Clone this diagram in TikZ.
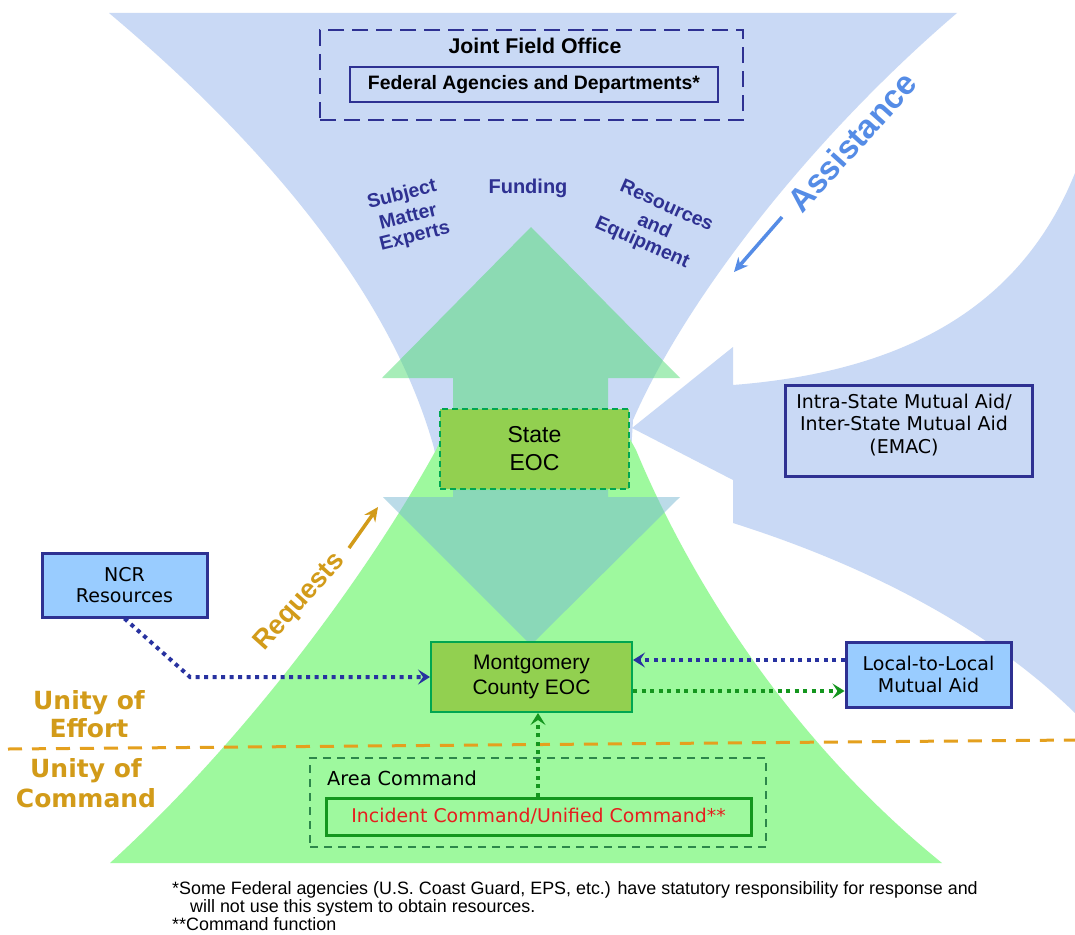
\documentclass[tikz,border=0pt]{standalone}
\usepackage{fontspec}
\setmainfont{Liberation Sans}
\newfontfamily\dejavu{DejaVu Sans}
\usetikzlibrary{arrows.meta}
\newcommand\fsz[2]{\fontsize{#1}{#2}\selectfont}
\definecolor{bgblue}{RGB}{201,217,245}
\definecolor{bellgreen}{RGB}{158,249,158}
\definecolor{upgreen}{RGB}{80,220,115}
\definecolor{downblue}{RGB}{120,185,210}
\definecolor{eocgreen}{RGB}{146,208,80}
\definecolor{eocborder}{RGB}{0,166,81}
\definecolor{navy}{RGB}{46,49,146}
\definecolor{boxblue}{RGB}{153,204,255}
\definecolor{gold}{RGB}{210,155,25}
\definecolor{orangeline}{RGB}{228,160,30}
\definecolor{assist}{RGB}{85,140,230}
\definecolor{dotgreen}{RGB}{20,150,30}
\definecolor{dotblue}{RGB}{40,50,160}
\definecolor{areagreen}{RGB}{45,135,75}
\definecolor{icred}{RGB}{230,30,30}
\begin{document}
\begin{tikzpicture}[x=1pt,y=-1pt,
  box/.style={draw, inner sep=0pt, anchor=center, align=center},
  txt/.style={inner sep=0pt, anchor=center, align=center},
  dotline/.style={line width=4pt, dash pattern=on 4pt off 4.5pt},
  tipS/.style={-{Stealth[length=12pt,width=15pt,inset=5pt]}},
  bigarrow/.style={line width=3.5pt, -{Stealth[length=14pt,width=13pt]}}
]
\useasboundingbox (0,0) rectangle (1075,934);
\fill[white] (0,0) rectangle (1075,934);
% blue funnel
\fill[bgblue] (109,13) -- (957,13) .. controls (820,130) and (690,290) .. (633,420)
  -- (630,470) -- (438,470) -- (434,448) .. controls (390,290) and (260,140) .. (109,13) -- cycle;
% right blue arrow shape
\fill[bgblue] (632,428) -- (733,347) -- (733,385) .. controls (900,372) and (1020,310) .. (1075,173)
  -- (1075,713) .. controls (980,620) and (850,560) .. (733,523) -- (733,480) -- cycle;
% green bell
\fill[bellgreen] (110,863) .. controls (250,735) and (370,570) .. (436,450) -- (445,430) -- (625,430)
  -- (636,450) .. controls (690,580) and (790,740) .. (942,863) -- cycle;
% translucent arrows
\fill[upgreen, fill opacity=0.5] (531,227) -- (680,378) -- (608,378) -- (608,490) -- (453,490) -- (453,378) -- (382,378) -- cycle;
\fill[downblue, fill opacity=0.5] (453,490) -- (608,490) -- (608,497) -- (680,497) -- (531,645) -- (383,497) -- (453,497) -- cycle;
% unity line
\coordinate (ueL) at (8,749);
\coordinate (ueR) at (1075,740);
\draw[orangeline, line width=3pt, dash pattern=on 14pt off 10pt] (ueL) -- (ueR);
% Joint field office
\node[box, draw=navy, line width=2.8pt, dash pattern=on 16pt off 8pt, minimum width=423pt, minimum height=90pt] (jfo) at (531.5,75) {};
\node[txt, font=\fsz{21.3}{24}\bfseries] (jfot) at (535,46) {Joint Field Office};
\node[box, draw=navy, line width=1.5pt, minimum width=368pt, minimum height=35pt, font=\fsz{19.4}{22}\bfseries] (fed) at (534,84.5) {Federal Agencies and Departments*};
% labels in funnel
\node[txt, text=navy, font=\fsz{19.5}{22}\bfseries, rotate=14] (sub1) at (402,195) {Subject};
\node[txt, text=navy, font=\fsz{19.5}{22}\bfseries, rotate=14] (sub2) at (408,216) {Matter};
\node[txt, text=navy, font=\fsz{19.5}{22}\bfseries, rotate=14] (sub3) at (415,237) {Experts};
\node[txt, text=navy, font=\fsz{20}{24}\bfseries] (fund) at (528,188) {Funding};
\node[txt, text=navy, font=\fsz{19.5}{22}\bfseries, rotate=-24] (res1) at (667,205) {Resources};
\node[txt, text=navy, font=\fsz{19.5}{22}\bfseries, rotate=-24] (res2) at (655,225) {and};
\node[txt, text=navy, font=\fsz{19.5}{22}\bfseries, rotate=-24] (res3) at (642,243) {Equipment};
% Assistance
\node[txt, text=assist, font=\fsz{33}{40}\bfseries, rotate=48] (assist) at (852,142) {Assistance};
\coordinate (asA) at (782,217);
\coordinate (asB) at (734,272);
\draw[assist, bigarrow] (asA) -- (asB);
% Requests
\node[txt, text=gold, font=\fsz{27}{32}\bfseries, rotate=48] (req) at (300,602) {Requests};
\coordinate (rqA) at (349,548);
\coordinate (rqB) at (378,507);
\draw[gold, bigarrow] (rqA) -- (rqB);
% Unity labels
\node[txt, text=gold, font=\dejavu\fsz{25}{28}\bfseries] (uoe) at (89,714) {Unity of\\Effort};
\node[txt, text=gold, font=\dejavu\fsz{25}{30}\bfseries] (uoc) at (86,783) {Unity of\\Command};
% EOC boxes
\node[box, draw=eocborder, fill=eocgreen, line width=1.5pt, dash pattern=on 6pt off 4pt, minimum width=189pt, minimum height=80pt, font=\fsz{23}{28}] (state) at (534.5,449) {State\\EOC};
\node[box, draw=eocborder, fill=eocgreen, line width=2pt, minimum width=201pt, minimum height=70pt, font=\fsz{21}{25}] (mont) at (531.5,677) {Montgomery\\County EOC};
% mutual aid boxes
\node[box, draw=navy, line width=3pt, minimum width=247pt, minimum height=91pt] (intra) at (908.5,430.5) {};
\node[txt, font=\dejavu\fsz{19}{22.5}] (intrat) at (904,425) {Intra-State Mutual Aid/\\Inter-State Mutual Aid\\(EMAC)};
\node[box, draw=navy, fill=boxblue, line width=3pt, minimum width=165pt, minimum height=64pt, font=\dejavu\fsz{19}{21}] (ncr) at (124.5,585) {NCR\\Resources};
\node[box, draw=navy, fill=boxblue, line width=3pt, minimum width=165pt, minimum height=65pt, font=\dejavu\fsz{19}{22}] (local) at (928.5,674.5) {Local-to-Local\\Mutual Aid};
% command boxes
\node[box, draw=areagreen, line width=1.5pt, dash pattern=on 8pt off 6pt, minimum width=456pt, minimum height=89pt] (area) at (538,802.5) {};
\node[txt, anchor=west, font=\dejavu\fsz{19.3}{22}] (areat) at (327,778) {Area Command};
\node[box, draw=dotgreen, line width=3pt, minimum width=425pt, minimum height=37pt, text=icred, font=\dejavu\fsz{18.9}{22}] (inc) at (538.5,816.5) {Incident Command/Unified Command**};
% connectors
\coordinate (ncrbend) at (190,677);
\draw[dotblue, dotline, tipS] (ncr.south) -- (ncrbend) -- (ncrbend -| mont.west);
\draw[dotblue, dotline, tipS] (local.west |- 0,660) -- (mont.east |- 0,660);
\draw[dotgreen, dotline, tipS] (mont.east |- 0,691) -- (local.west |- 0,691);
\draw[dotgreen, dotline, tipS] (inc.north -| 538,0) -- (mont.south -| 538,0);
% footnotes
\node[inner sep=0pt, anchor=base west, font=\fsz{17.9}{18}] (f1) at (172,894) {*Some Federal agencies (U.S. Coast Guard, EPS, etc.) have statutory responsibility for response and};
\node[inner sep=0pt, anchor=base west, font=\fsz{17.9}{18}] (f2) at (190,912) {will not use this system to obtain resources.};
\node[inner sep=0pt, anchor=base west, font=\fsz{17.9}{18}] (f3) at (172,930) {**Command function};
\end{tikzpicture}
\end{document}
